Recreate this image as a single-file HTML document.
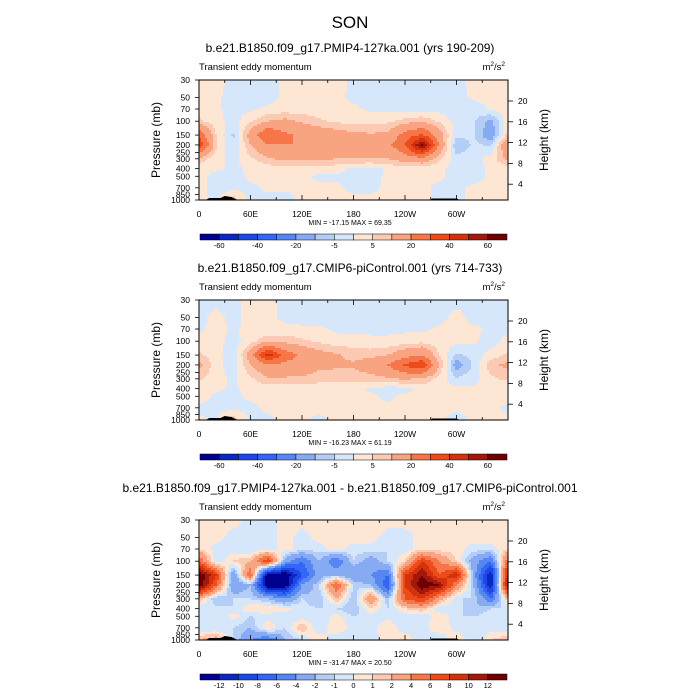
<!DOCTYPE html>
<html><head><meta charset="utf-8"><style>
body{margin:0;background:#fff}
svg{display:block;font-family:"Liberation Sans",sans-serif}
</style></head><body>
<svg id="fig" width="700" height="700" viewBox="0 0 700 700" xmlns="http://www.w3.org/2000/svg">
<rect width="700" height="700" fill="#fff"/>
<text x="350" y="28" font-size="17" text-anchor="middle">SON</text>
</svg>
<script>
const lons=[0,20,40,60,80,100,120,140,160,180,200,220,240,260,280,300,320,340,360];
const levs=[30,50,70,100,150,200,300,400,500,700,1000];
const pTicks=[30,50,70,100,150,200,250,300,400,500,700,850,1000];
const hTicks=[4,8,12,16,20];
const lonTickVals=[0,60,120,180,240,300];
const lonTickLabels=["0","60E","120E","180","120W","60W"];
const colors=["#00008f","#0a28c2","#1f47e6","#3366f5","#5586f2","#86abf2","#b3cdf6","#d7e7fb","#fee6d4","#fccab2","#f9a481","#f67649","#ee4b1b","#d23210","#a3180a","#700000"];
const levelsA=[-60,-50,-40,-30,-20,-10,-5,0,5,10,20,30,40,50,60];
const levelsA_labels=["-60","-40","-20","-5","5","20","40","60"];
const levelsB=[-12,-10,-8,-6,-4,-2,-1,0,1,2,4,6,8,10,12];
const titles=["b.e21.B1850.f09_g17.PMIP4-127ka.001 (yrs 190-209)","b.e21.B1850.f09_g17.CMIP6-piControl.001 (yrs 714-733)","b.e21.B1850.f09_g17.PMIP4-127ka.001 - b.e21.B1850.f09_g17.CMIP6-piControl.001"];
const minmax=["MIN = -17.15  MAX =  69.35","MIN = -16.23  MAX =  61.19","MIN = -31.47  MAX =  20.50"];
const field1=[
[2,2,-2,-2,-2,1,1,2,2,-1,-2,-2,-2,-2,-2,-2,2,2,2],
[2,1,-2,-2,-2,1,1,1,1,-1,-2,-2,-2,-2,-2,-2,1,1,2],
[3,1,-2,-1,1,2,2,2,1,1,-1,-1,-2,-2,-2,-2,-3,1,3],
[6,2,-2,4,10,12,9,6,4,3,3,4,7,9,4,-2,-4,-12,4],
[28,5,-6,14,30,22,18,16,14,12,11,12,24,32,14,-3,-4,-16,8],
[38,6,-5,10,20,20,20,18,16,16,18,17,30,62,18,-10,-4,-6,20],
[8,2,-2,4,9,12,12,11,10,10,10,10,14,16,6,-3,-2,2,12],
[2,1,-1,1,2,3,3,2,2,-1,-2,1,2,2,1,-2,-2,1,2],
[2,-2,-2,1,1,1,1,-1,-1,-2,-2,1,1,1,1,-2,-2,1,2],
[2,-2,-2,-1,1,1,1,1,1,-1,-1,1,1,1,-1,-1,1,1,2],
[2,-2,8,-2,-2,-2,1,1,1,1,1,1,1,1,-1,-1,1,1,2]];
const field2=[
[-2,-2,-2,2,2,-2,-2,-2,-2,-2,-2,-2,-2,-2,-2,-2,-2,-2,-2],
[-2,2,-2,2,2,-2,-2,-2,-2,-2,-2,-2,-2,-2,-2,2,-2,-2,-2],
[-1,2,-1,2,2,2,1,1,-1,-1,-1,-1,-1,-1,1,2,1,-1,-1],
[2,2,-2,3,8,8,6,4,2,2,1,1,2,3,2,2,1,-3,2],
[6,2,-4,14,45,26,18,13,11,8,8,10,16,20,5,-6,-3,2,6],
[12,2,-3,10,18,17,15,12,11,11,15,20,32,38,10,-14,-4,8,12],
[6,2,-1,4,9,9,9,7,7,7,7,9,11,9,3,-4,-2,4,6],
[2,1,-1,2,2,2,2,2,2,2,-1,-2,-2,2,1,1,1,2,2],
[2,-1,-1,1,1,1,2,2,2,2,1,-1,1,1,1,1,2,2,2],
[-1,-1,-2,-1,1,1,1,1,1,1,1,1,1,1,1,1,1,1,-1],
[1,-1,8,-1,-1,1,1,-1,1,1,1,1,1,1,1,-2,1,1,1]];
const field3=[
[0.5,0.5,0.5,-0.5,-0.5,0.5,0.5,0.5,0.5,0.5,0.5,0.5,0.5,0.5,0.5,0.5,0.5,0.5,0.5],
[0.5,0.5,-0.5,-0.5,-0.5,0.5,-0.5,0.5,0.5,0.5,0.5,-0.5,-0.5,0.5,0.5,0.5,0.5,0.5,0.5],
[1,-0.5,-0.5,-1,-0.5,0.5,-0.5,-0.5,0.5,-0.5,-0.5,-1,-0.5,0.5,0.5,0.5,-0.5,-0.5,1],
[6,-1,1,2,8,-3,-6,-2,-6,-1,-3,-1,1,8,4,1,-3,-6,6],
[14,8,-4,6,-14,-14,-8,-3,-2,-4,-4,-6,8,12,6,10,-3,-12,10],
[14,6,-4,-2,-14,-14,-4,-1,6,-1,-2,-8,8,14,12,4,-2,-12,12],
[2,-2,-1,-1,-2,-4,-1,-2,2,-2,4,-2,6,8,3,-1,-1,-6,2],
[-1,-0.5,-1,1,1,0.5,-0.5,-1,-1,-2,1,-1,1,2,-1,-0.5,-2,-1,-1],
[-0.5,-1,0.5,-1,-0.5,-1,-0.5,-1,0.5,-1,-0.5,-0.5,-0.5,-1,1,-1,-1,-0.5,-0.5],
[-1,-1,-1,-2,1,-1,2,-1,1,-0.5,-0.5,1,-1,-0.5,1,-0.5,-1,-0.5,-1],
[2,3,-1,-4,-6,-2,-1,1,-1,-1,-1,1,1,-1,-1,1,-1,1,2]];

const NS="http://www.w3.org/2000/svg";
const svg=document.getElementById('fig');
const X0=199,X1=508,PH=120;
function xOf(lon){return X0+(lon/360)*(X1-X0);}
function yOf(p,T){return T+Math.log(p/30)/Math.log(1000/30)*PH;}
function hY(h,T){return T+125-5.2*h;}
function mk(tag,attrs,parent){const e=document.createElementNS(NS,tag);for(const k in attrs)e.setAttribute(k,attrs[k]);(parent||svg).appendChild(e);return e;}
function sample(f,lon,p){
  lon=Math.max(0,Math.min(360,lon));
  let i=Math.min(Math.floor(lon/20),17);let tx=(lon-lons[i])/20;
  let lp=Math.log(p);let j=0;while(j<levs.length-2&&Math.log(levs[j+1])<lp)j++;
  let ty=(lp-Math.log(levs[j]))/(Math.log(levs[j+1])-Math.log(levs[j]));
  ty=Math.max(0,Math.min(1,ty));
  const a=f[j][i]*(1-tx)+f[j][i+1]*tx, b=f[j+1][i]*(1-tx)+f[j+1][i+1]*tx;
  return a*(1-ty)+b*ty;
}
function cls(v,lv){let k=0;while(k<lv.length&&v>=lv[k])k++;return k;}
const fields=[field1,field2,field3];
const tops=[80,300,520];
fields.forEach((f,n)=>{
  const T=tops[n];const lv=n<2?levelsA:levelsB;
  const g=mk('g',{});
  
  
  const step=2;
  for(let r=0;r<PH/step;r++){
    const y=T+r*step;
    const yc=y+step/2;const p=30*Math.pow(1000/30,(yc-T)/PH);
    let runStart=X0,runC=-1;
    for(let x=X0;;x+=step){
      const end=x>=X1;
      let c=-1;
      if(!end){const lon=(x+step/2-X0)/(X1-X0)*360;c=cls(sample(f,lon,p),lv);}
      if(c!==runC||end){
        if(runC>=0){const rr=mk('rect',{x:runStart,y:y,width:Math.min(x,X1)-runStart+0.6,height:step+0.6,fill:colors[runC]},g);
          }
        runStart=x;runC=c;
      }
      if(end)break;
    }
  }
  const topo=mk('path',{d:`M${xOf(8)},${T+PH} L${xOf(12)},${T+PH-2} L${xOf(25)},${T+PH-2} L${xOf(30)},${T+PH-4} L${xOf(38)},${T+PH-3} L${xOf(45)},${T+PH} Z M${xOf(268)},${T+PH} L${xOf(272)},${T+PH-1.5} L${xOf(300)},${T+PH-1.5} L${xOf(304)},${T+PH} Z`,fill:'#000'});
  
  const fr=mk('rect',{x:X0,y:T,width:X1-X0,height:PH,fill:'none',stroke:'#000','stroke-width':1});
  
  const st=mk('text',{x:350,y:T-28,'font-size':12,'text-anchor':'middle'});st.textContent=titles[n];
  
  const lt=mk('text',{x:X0,y:T-10,'font-size':9.5});lt.textContent='Transient eddy momentum';
  
  const ut=mk('text',{x:X1-3,y:T-10,'font-size':9.5,'text-anchor':'end'});ut.innerHTML='m<tspan dy="-4" font-size="6.5">2</tspan><tspan dy="4">/s</tspan><tspan dy="-4" font-size="6.5">2</tspan>';
  
  const yl=mk('text',{x:0,y:0,'font-size':12,'text-anchor':'middle',transform:`translate(160,${T+60}) rotate(-90)`});yl.textContent='Pressure (mb)';
  
  const hl=mk('text',{x:0,y:0,'font-size':12,'text-anchor':'middle',transform:`translate(548,${T+60}) rotate(-90)`});hl.textContent='Height (km)';
  
  pTicks.forEach(p=>{const y=yOf(p,T);mk('line',{x1:X0-4,x2:X0,y1:y,y2:y,stroke:'#000','stroke-width':0.8});
    const t=mk('text',{x:X0-9,y:y+3,'font-size':8.5,'text-anchor':'end'});t.textContent=p;
    });
  hTicks.forEach(h=>{const y=hY(h,T);mk('line',{x1:X1,x2:X1+5,y1:y,y2:y,stroke:'#000','stroke-width':0.8});
    const t=mk('text',{x:X1+10,y:y+3,'font-size':8.5});t.textContent=h;
    });
  for(let lon=0;lon<=360;lon+=30){const x=xOf(lon);const L=lon%60===0?5:3;
    mk('line',{x1:x,x2:x,y1:T,y2:T+L,stroke:'#000','stroke-width':0.8});
    mk('line',{x1:x,x2:x,y1:T+PH,y2:T+PH-L,stroke:'#000','stroke-width':0.8});}
  lonTickVals.forEach((v,i)=>{const t=mk('text',{x:xOf(v),y:T+PH+17,'font-size':8.5,'text-anchor':'middle'});t.textContent=lonTickLabels[i];
    });
  const mm=mk('text',{x:350,y:T+PH+25,'font-size':7,'text-anchor':'middle'});mm.textContent=minmax[n];
  
  const cb=mk('g',{});
  const bw=(507-200)/16,cy=T+154;
  colors.forEach((c,k)=>{const r=mk('rect',{x:200+k*bw,y:cy,width:bw,height:6,fill:c,stroke:'#000','stroke-width':0.5},cb);
    });
  if(n<2){levelsA_labels.forEach((s,k)=>{const t=mk('text',{x:200+(2*k+1)*bw,y:cy+14,'font-size':7.5,'text-anchor':'middle'},cb);t.textContent=s;
      });}
  else{levelsB.forEach((v,k)=>{const t=mk('text',{x:200+(k+1)*bw,y:cy+14,'font-size':7.5,'text-anchor':'middle'},cb);t.textContent=v;
      });}
});
</script>
</body></html>
